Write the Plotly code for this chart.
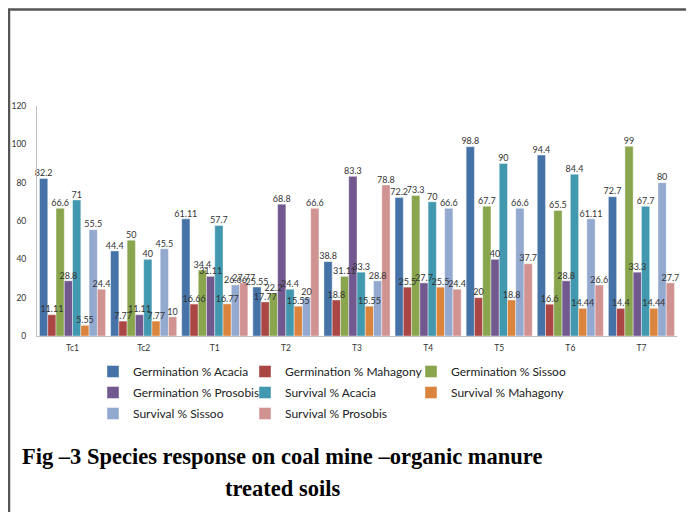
import plotly.graph_objects as go

categories = ["Tc1", "Tc2", "T1", "T2", "T3", "T4", "T5", "T6", "T7"]

germ_acacia = [82.2, 44.4, 61.11, 25.55, 38.8, 72.2, 98.8, 94.4, 72.7]
germ_mahagony = [11.11, 7.77, 16.66, 17.77, 18.8, 25.5, 20, 16.6, 14.4]
germ_sissoo = [66.6, 50, 34.4, 22.2, 31.11, 73.3, 67.7, 65.5, 99]
germ_prosobis = [28.8, 11.11, 31.11, 68.8, 83.3, 27.7, 40, 28.8, 33.3]
surv_acacia = [71, 40, 57.7, 24.4, 33.3, 70, 90, 84.4, 67.7]
surv_mahagony = [5.55, 7.77, 16.77, 15.55, 15.55, 25.5, 18.8, 14.44, 14.44]
surv_sissoo = [55.5, 45.5, 26.66, 20, 28.8, 66.6, 66.6, 61.11, 80]
surv_prosobis = [24.4, 10, 27.77, 66.6, 78.8, 24.4, 37.7, 26.6, 27.7]

series_names = ["Germination % Acacia", "Germination % Mahagony", "Germination % Sissoo",
                "Germination % Prosobis", "Survival % Acacia", "Survival % Mahagony",
                "Survival % Sissoo", "Survival % Prosobis"]
series_values = [germ_acacia, germ_mahagony, germ_sissoo, germ_prosobis,
                 surv_acacia, surv_mahagony, surv_sissoo, surv_prosobis]
colors = ["#4572A7", "#AA4643", "#89A54E", "#71588F", "#4198AF", "#DB843D", "#93A9CF", "#D19392"]
legend_ids = ["legend", "legend2", "legend3", "legend", "legend2", "legend3", "legend", "legend2"]

FONT = "Lato, Liberation Sans, sans-serif"
GAP = 0.07

fig = go.Figure()
# bars
for name, vals, col, lg in zip(series_names, series_values, colors, legend_ids):
    fig.add_trace(go.Bar(
        x=categories, y=vals, name=name, legend=lg, legendgroup=name,
        marker=dict(color=col, line=dict(color="rgba(255,255,255,0.7)", width=0.6)),
    ))
# data labels drawn on top of all bars
for name, vals in zip(series_names, series_values):
    fig.add_trace(go.Scatter(
        x=categories, y=vals, mode="text", text=[str(v) for v in vals],
        textposition="top center", showlegend=False, hoverinfo="skip",
        textfont=dict(size=9, color="#333333", family=FONT), cliponaxis=False,
    ))

# page body has an 8px margin, so the figure is drawn 8px in from the window edge
OFF = 8
W, H = 694 - OFF, 512 - OFF
PL, PR, PT, PB = 37, 677, 106, 336      # plot area in window pixels
L, T = PL - OFF, PT - OFF
R, B = W - (PR - OFF), H - (PB - OFF)
pw, ph = PR - PL, PB - PT

def px(x):
    return (x - PL) / pw

def py(y):
    return (PB - y) / ph

leg_common = dict(orientation="v", yanchor="top", xanchor="left",
                  font=dict(size=12, family=FONT, color="#222222"),
                  bgcolor="rgba(0,0,0,0)", tracegroupgap=2, itemwidth=30)

fig.update_layout(
    width=W, height=H,
    margin=dict(l=L, r=R, t=T, b=B, autoexpand=False),
    paper_bgcolor="white", plot_bgcolor="white",
    barmode="group", bargap=GAP, bargroupgap=0,
    scattermode="group", scattergap=GAP,
    showlegend=True,
    legend=dict(x=px(93), y=py(357), **leg_common),
    legend2=dict(x=px(245), y=py(357), **leg_common),
    legend3=dict(x=px(411), y=py(357), **leg_common),
    xaxis=dict(showline=True, linecolor="#BFBFBF", linewidth=1, showgrid=False,
               tickfont=dict(size=8.5, family=FONT, color="#333333"), ticks="",
               ticklabelstandoff=4, automargin=False),
    yaxis=dict(range=[0, 120], dtick=20, showline=True, linecolor="#BFBFBF", linewidth=1,
               showgrid=False, zeroline=False, ticks="",
               tickfont=dict(size=8.5, family=FONT, color="#333333"),
               ticklabelstandoff=8, automargin=False),
    shapes=[dict(type="rect", xref="paper", yref="paper",
                 x0=px(9), x1=px(689), y0=py(530), y1=py(9.5),
                 line=dict(color="#555555", width=2.5), fillcolor="rgba(0,0,0,0)")],
    annotations=[
        dict(text="<b>Fig \u20133 Species response on coal mine \u2013organic manure</b>",
             xref="paper", yref="paper", x=px(20), y=py(457), xanchor="left", yanchor="middle",
             showarrow=False, font=dict(size=22.5, family="Liberation Serif, Times New Roman, serif", color="black")),
        dict(text="<b>treated soils</b>",
             xref="paper", yref="paper", x=px(223), y=py(488), xanchor="left", yanchor="middle",
             showarrow=False, font=dict(size=22.5, family="Liberation Serif, Times New Roman, serif", color="black")),
    ],
)

fig.write_html("out.html")
